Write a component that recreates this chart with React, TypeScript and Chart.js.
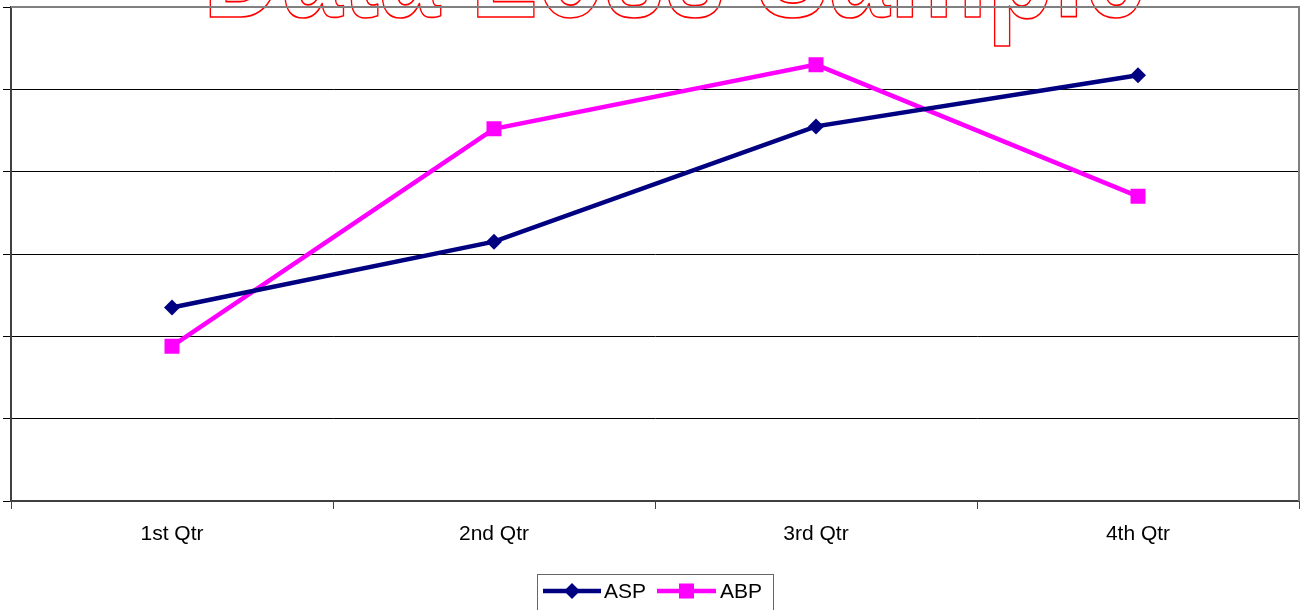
import React, { useEffect, useRef } from "react";
import { Chart, registerables } from "chart.js";

Chart.register(...registerables);

const TITLE = "Data Loss Sample";
const CATEGORIES = ["1st Qtr", "2nd Qtr", "3rd Qtr", "4th Qtr"];
const ASP_VALUES = [2.35, 3.15, 4.55, 5.17];
const ABP_VALUES = [1.88, 4.52, 5.3, 3.7];
const SERIES_NAMES = ["ASP", "ABP"];
const SERIES_COLORS = ["#000080", "#FF00FF"];
const Y_MIN = 0;
const Y_MAX = 6;
const Y_STEP = 1;

const FONT = '"Liberation Sans", Arial, sans-serif';

const decorPlugin = {
  id: "decor",
  beforeDraw(chart: any) {
    const ctx = chart.ctx;
    const cx = chart.width / 2 + 21;
    ctx.save();
    ctx.font = `bold 138px ${FONT}`;
    const w = ctx.measureText(TITLE).width;
    const sx = 942 / w;
    ctx.translate(cx, 16.5);
    ctx.scale(sx, 1);
    ctx.textAlign = "center";
    ctx.textBaseline = "alphabetic";
    ctx.lineWidth = 1.7;
    ctx.strokeStyle = "#FF0000";
    ctx.lineJoin = "round";
    ctx.strokeText(TITLE, 0, 0);
    ctx.restore();
  },
  afterDraw(chart: any) {
    const ctx = chart.ctx;
    const a = chart.chartArea;
    ctx.save();
    // plot area border (top & right)
    ctx.strokeStyle = "#808080";
    ctx.lineWidth = 2;
    ctx.beginPath();
    ctx.moveTo(a.left, a.top);
    ctx.lineTo(a.right, a.top);
    ctx.lineTo(a.right, a.bottom);
    ctx.stroke();

    // legend
    const cx = (a.left + a.right) / 2;
    const ly = 591;
    ctx.strokeStyle = "#666666";
    ctx.lineWidth = 1;
    ctx.strokeRect(Math.round(cx - 118) + 0.5, 574.5, 236, 44);
    ctx.font = `21px ${FONT}`;
    ctx.textBaseline = "middle";
    ctx.textAlign = "left";
    const items = [
      { x0: cx - 112, x1: cx - 54, m: cx - 83, tx: cx - 51, style: "diamond" },
      { x0: cx + 2, x1: cx + 61, m: cx + 31.5, tx: cx + 65, style: "square" },
    ];
    items.forEach((it, i) => {
      const c = SERIES_COLORS[i];
      ctx.strokeStyle = c;
      ctx.fillStyle = c;
      ctx.lineWidth = 4.5;
      ctx.beginPath();
      ctx.moveTo(it.x0, ly);
      ctx.lineTo(it.x1, ly);
      ctx.stroke();
      ctx.beginPath();
      if (it.style === "diamond") {
        ctx.moveTo(it.m, ly - 8);
        ctx.lineTo(it.m + 8, ly);
        ctx.lineTo(it.m, ly + 8);
        ctx.lineTo(it.m - 8, ly);
        ctx.closePath();
      } else {
        ctx.rect(it.m - 7.5, ly - 7.5, 15, 15);
      }
      ctx.fill();
      ctx.fillStyle = "#000000";
      ctx.fillText(SERIES_NAMES[i], it.tx, ly + 1);
    });
    ctx.restore();
  },
};

export default function App() {
  const ref = useRef<HTMLCanvasElement | null>(null);
  useEffect(() => {
    if (!ref.current) return;
    Chart.defaults.font.family = FONT;
    const chart = new Chart(ref.current, {
      type: "line",
      data: {
        labels: CATEGORIES,
        datasets: [
          {
            label: SERIES_NAMES[0],
            data: ASP_VALUES,
            borderColor: SERIES_COLORS[0],
            backgroundColor: SERIES_COLORS[0],
            borderWidth: 4.5,
            tension: 0,
            pointStyle: "rectRot",
            pointRadius: 8,
            pointBorderWidth: 0,
          },
          {
            label: SERIES_NAMES[1],
            data: ABP_VALUES,
            borderColor: SERIES_COLORS[1],
            backgroundColor: SERIES_COLORS[1],
            borderWidth: 4.5,
            tension: 0,
            pointStyle: "rect",
            pointRadius: 10.6,
            pointBorderWidth: 0,
          },
        ],
      },
      options: {
        animation: false,
        responsive: true,
        maintainAspectRatio: false,
        layout: { autoPadding: false, padding: { left: 3, top: 7, right: 7, bottom: 0 } },
        plugins: {
          legend: { display: false },
          title: { display: false },
          tooltip: { enabled: false },
        },
        scales: {
          x: {
            type: "category",
            offset: true,
            afterFit: (s: any) => {
              s.height = 109;
            },
            grid: {
              offset: true,
              drawOnChartArea: false,
              drawTicks: true,
              tickLength: 8,
              color: "#404040",
              lineWidth: 1,
            },
            border: { color: "#404040", width: 2 },
            ticks: {
              color: "#000000",
              font: { size: 21, family: FONT },
              padding: 13,
              maxRotation: 0,
            },
          },
          y: {
            min: Y_MIN,
            max: Y_MAX,
            afterFit: (s: any) => {
              s.width = 8;
            },
            ticks: { display: false, stepSize: Y_STEP },
            grid: {
              color: "#000000",
              lineWidth: 1,
              drawTicks: true,
              tickLength: 8,
            },
            border: { color: "#404040", width: 2 },
          },
        },
      },
      plugins: [decorPlugin],
    });
    return () => chart.destroy();
  }, []);
  return (
    <div
      style={{
        position: "fixed",
        left: 0,
        top: 0,
        width: 1306,
        height: 610,
        background: "#ffffff",
      }}
    >
      <canvas ref={ref} />
    </div>
  );
}
